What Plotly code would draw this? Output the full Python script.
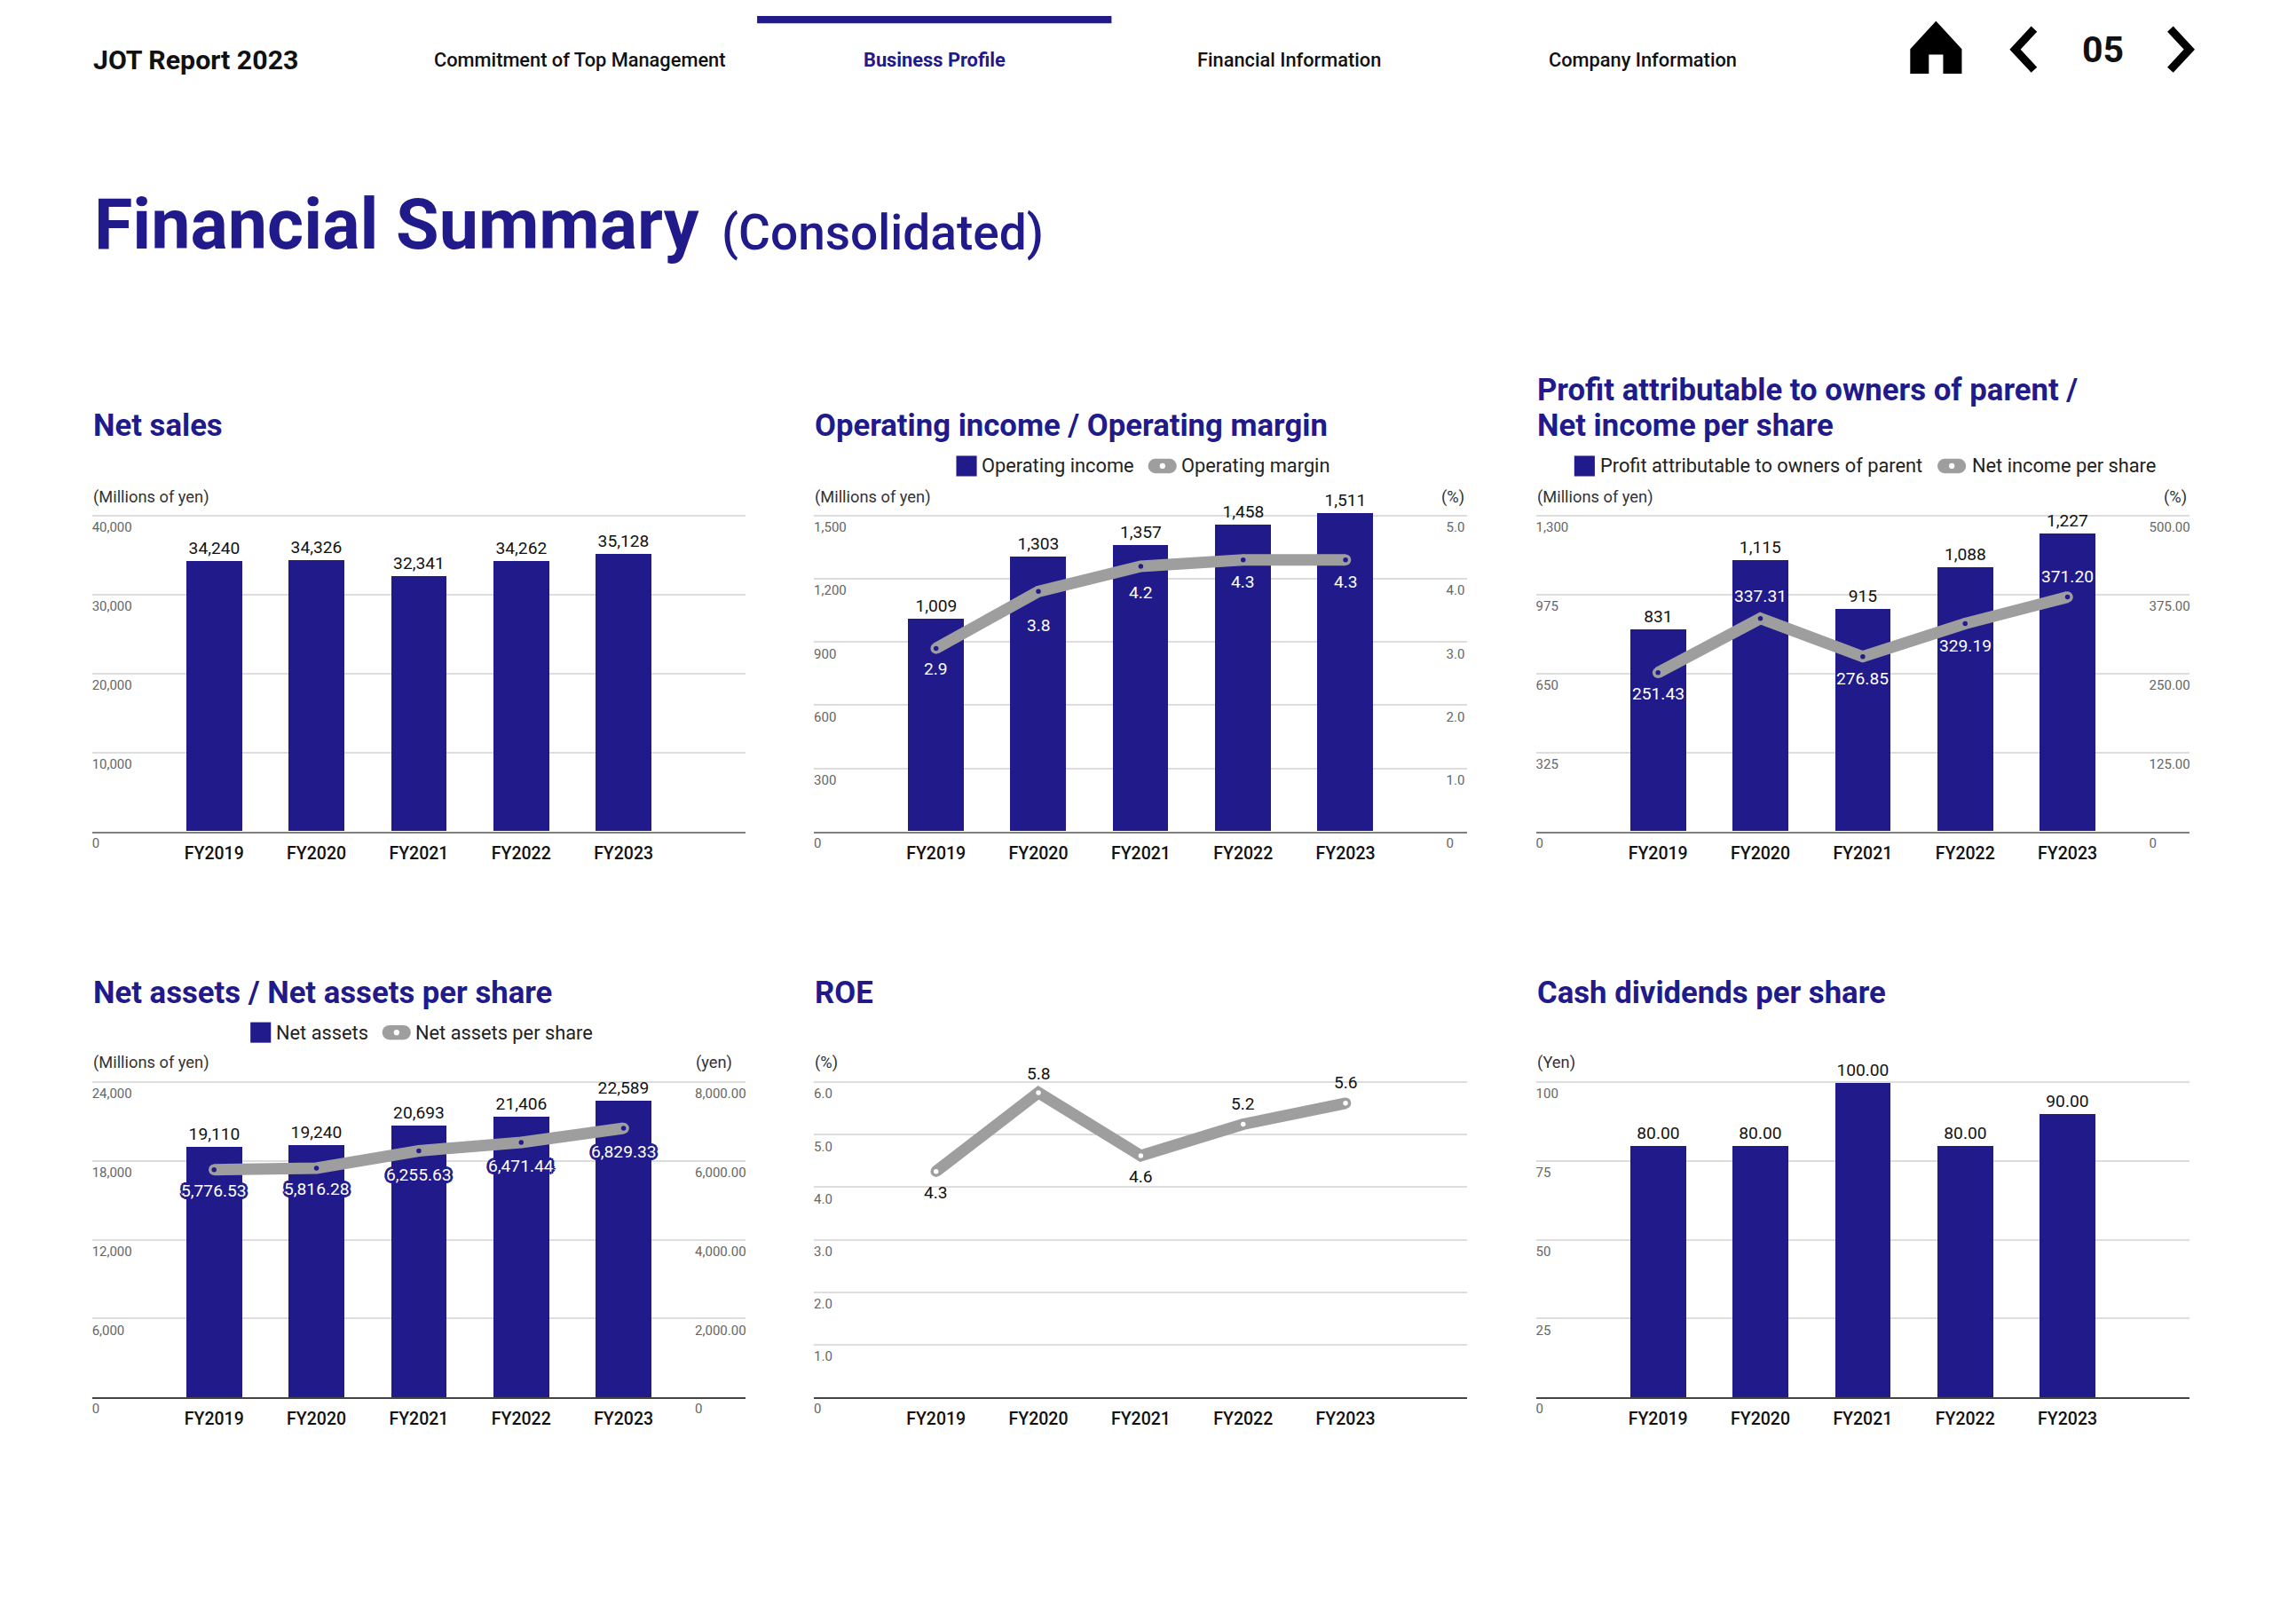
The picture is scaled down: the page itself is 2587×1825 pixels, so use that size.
import plotly.graph_objects as go

W, H = 2587, 1825
S = W / 1552.0
KX = 1.0102      # calibration between picture-read coordinates and page pixels
NAVY = "#211a8a"
GRAY = "#9e9e9e"
GRID = "#dddddd"
FONT = "Roboto"
EXT = 1.01       # head-room so that the top gridline is drawn

# ---- data -----------------------------------------------------------
years = ["FY2019", "FY2020", "FY2021", "FY2022", "FY2023"]

net_sales = [34240, 34326, 32341, 34262, 35128]
net_sales_text = ["34,240", "34,326", "32,341", "34,262", "35,128"]

op_income = [1009, 1303, 1357, 1458, 1511]
op_income_text = ["1,009", "1,303", "1,357", "1,458", "1,511"]
op_margin = [2.9, 3.8, 4.2, 4.3, 4.3]
op_margin_text = ["2.9", "3.8", "4.2", "4.3", "4.3"]

profit = [831, 1115, 915, 1088, 1227]
profit_text = ["831", "1,115", "915", "1,088", "1,227"]
eps = [251.43, 337.31, 276.85, 329.19, 371.20]
eps_text = ["251.43", "337.31", "276.85", "329.19", "371.20"]

net_assets = [19110, 19240, 20693, 21406, 22589]
net_assets_text = ["19,110", "19,240", "20,693", "21,406", "22,589"]
bps = [5776.53, 5816.28, 6255.63, 6471.44, 6829.33]
bps_text = ["5,776.53", "5,816.28", "6,255.63", "6,471.44", "6,829.33"]

roe = [4.3, 5.8, 4.6, 5.2, 5.6]
roe_text = ["4.3", "5.8", "4.6", "5.2", "5.6"]

dividends = [80, 80, 100, 80, 90]
dividends_text = ["80.00", "80.00", "100.00", "80.00", "90.00"]

ticks_sales = [0, 10000, 20000, 30000, 40000]
ticks_sales_text = ["0", "10,000", "20,000", "30,000", "40,000"]
ticks_income = [0, 300, 600, 900, 1200, 1500]
ticks_income_text = ["0", "300", "600", "900", "1,200", "1,500"]
ticks_margin = [0, 1, 2, 3, 4, 5]
ticks_margin_text = ["0", "1.0", "2.0", "3.0", "4.0", "5.0"]
ticks_profit = [0, 325, 650, 975, 1300]
ticks_profit_text = ["0", "325", "650", "975", "1,300"]
ticks_eps = [0, 125, 250, 375, 500]
ticks_eps_text = ["0", "125.00", "250.00", "375.00", "500.00"]
ticks_assets = [0, 6000, 12000, 18000, 24000]
ticks_assets_text = ["0", "6,000", "12,000", "18,000", "24,000"]
ticks_bps = [0, 2000, 4000, 6000, 8000]
ticks_bps_text = ["0", "2,000.00", "4,000.00", "6,000.00", "8,000.00"]
ticks_roe = [0, 1, 2, 3, 4, 5, 6]
ticks_roe_text = ["0", "1.0", "2.0", "3.0", "4.0", "5.0", "6.0"]
ticks_div = [0, 25, 50, 75, 100]
ticks_div_text = ["0", "25", "50", "75", "100"]

# vertical offset of each line label from its point (reference px)
off_margin = [-14, -23, -18, -15, -15]
off_eps = [-14, 15, -15, -15, 14]
off_bps = [-14, -14, -16, -16, -16]
off_roe = [-14, 13, -14, 14, 14]


# ---- helpers --------------------------------------------------------
def fx(x):
    return (x / KX) * S / W


def fy(y):
    return 1 - (y + 0.8) * S / H


fig = go.Figure()
annotations, shapes = [], []


def text(x, y, s, size, color="#111111", weight=400, anchor="left", yanchor="middle", family=FONT):
    annotations.append(dict(
        x=fx(x - 0.8), y=fy(y), xref="paper", yref="paper", text=s, showarrow=False,
        xanchor=anchor, yanchor=yanchor,
        font=dict(family=family, size=size, color=color, weight=weight),
    ))


def rect(x0, y0, x1, y1, color):
    shapes.append(dict(type="rect", xref="paper", yref="paper", x0=fx(x0), x1=fx(x1),
                       y0=fy(y0), y1=fy(y1), fillcolor=color, line=dict(width=0)))


def circle(cx, cy, r, color):
    shapes.append(dict(type="circle", xref="paper", yref="paper", x0=fx(cx - r), x1=fx(cx + r),
                       y0=fy(cy + r), y1=fy(cy - r), fillcolor=color, line=dict(width=0)))


def path(d_pts, fill=None, stroke=None, width=0):
    pts = " L ".join(f"{fx(a):.5f},{fy(b):.5f}" for a, b in d_pts)
    shapes.append(dict(type="path", xref="paper", yref="paper", path="M " + pts + (" Z" if fill else ""),
                       fillcolor=fill or "rgba(0,0,0,0)",
                       line=dict(color=stroke or "rgba(0,0,0,0)", width=width)))


def legend(x_sq, y, label1, x_t1, x_pill, label2, x_t2):
    rect(x_sq, y - 7, x_sq + 14, y + 7, NAVY)
    text(x_t1, y, label1, 21.8, "#222222")
    rect(x_pill + 5, y - 5, x_pill + 14.5, y + 5, GRAY)
    circle(x_pill + 5, y, 5, GRAY)
    circle(x_pill + 14.5, y, 5, GRAY)
    circle(x_pill + 9.8, y, 1.9, "white")
    text(x_t2, y, label2, 21.8, "#222222")


def panel(n, left, top, base, baseline_color, bar=None, bar_text=None, ymax=None, ticks=None, ticks_text=None,
          line=None, line_text=None, offs=None, rmax=None, rticks=None, rticks_text=None, rpos=None, halo=False,
          label_color="white", dot=NAVY):
    right = left + 446
    xa = f"x{n}"
    ya = f"y{2*n-1}"
    yb = f"y{2*n}"
    top_ext = base - (base - top) * EXT
    dom = [fy(base), fy(top_ext)]
    layout_x = dict(domain=[fx(left), fx(right)], range=[-1.19, 5.19], anchor=ya, type="category",
                    categoryorder="array", categoryarray=years,
                    showgrid=False, showline=True, linecolor=baseline_color, linewidth=2, zeroline=False,
                    ticks="", ticklabelstandoff=6,
                    tickfont=dict(family=FONT, size=19.5, color="#111111", weight=500))
    layout_y = dict(domain=dom, range=[0, ymax * EXT], side="right", anchor="free", position=fx(left - 0.8),
                    tickmode="array", tickvals=ticks, ticktext=ticks_text, ticklabelshift=13,
                    showgrid=True, gridcolor=GRID, gridwidth=2, zeroline=False, showline=False, ticks="",
                    tickfont=dict(family=FONT, size=15, color="#666666"))
    fig.update_layout({f"xaxis{n}": layout_x, f"yaxis{2*n-1}": layout_y})
    if bar is not None:
        fig.add_trace(go.Bar(x=years, y=bar, text=bar_text, textposition="outside", cliponaxis=False,
                             marker=dict(color=NAVY, line=dict(width=0)), width=0.543, xaxis=xa, yaxis=ya,
                             textfont=dict(family=FONT, size=19.2, color="#111111"), textangle=0,
                             constraintext="none", hoverinfo="skip", showlegend=False))
    ly = ya
    if rmax is not None:
        fig.update_layout({f"yaxis{2*n}": dict(
            domain=dom, range=[0, rmax * EXT], overlaying=ya, side="right", anchor="free",
            position=fx(rpos - 1), tickmode="array", tickvals=rticks, ticktext=rticks_text, showgrid=False,
            zeroline=False, showline=False, ticks="", ticklabelshift=13,
            tickfont=dict(family=FONT, size=15, color="#666666"))})
        ly = yb
    if line is not None:
        fig.add_trace(go.Scatter(x=years, y=line, mode="lines+markers", xaxis=xa, yaxis=ly, cliponaxis=False,
                                 line=dict(color=GRAY, width=13), hoverinfo="skip", showlegend=False,
                                 marker=dict(size=9, color=dot, line=dict(color=GRAY, width=3.5))))
        for i, v in enumerate(line):
            f = dict(family=FONT, size=19.2, color=label_color)
            if halo:
                f["shadow"] = ",".join(f"{a}px {b}px 0 {NAVY}" for a, b in
                                       [(3, 0), (-3, 0), (0, 3), (0, -3), (2, 2), (-2, 2), (2, -2), (-2, -2)])
            annotations.append(dict(x=years[i], y=v, xref=xa, yref=ly, text=line_text[i], showarrow=False,
                                    yshift=offs[i] * S, font=f))


# ---- charts ---------------------------------------------------------
LINE1, LINE2 = "#808080", "#444444"
panel(1, 63, 352, 568, LINE1, net_sales, net_sales_text, 40000, ticks_sales, ticks_sales_text)
panel(2, 556, 352, 568, LINE1, op_income, op_income_text, 1500, ticks_income, ticks_income_text,
      op_margin, op_margin_text, off_margin, 5, ticks_margin, ticks_margin_text, 988)
panel(3, 1049, 352, 568, LINE1, profit, profit_text, 1300, ticks_profit, ticks_profit_text,
      eps, eps_text, off_eps, 500, ticks_eps, ticks_eps_text, 1468)
panel(4, 63, 739.5, 955, LINE2, net_assets, net_assets_text, 24000, ticks_assets, ticks_assets_text,
      bps, bps_text, off_bps, 8000, ticks_bps, ticks_bps_text, 475, halo=True)
panel(5, 556, 739.5, 955, LINE2, None, None, 6, ticks_roe, ticks_roe_text,
      roe, roe_text, off_roe, label_color="#111111", dot="white")
panel(6, 1049, 739.5, 955, LINE2, dividends, dividends_text, 100, ticks_div, ticks_div_text)

# ---- panel titles, units, legends ------------------------------------
TS = 34.7
text(63, 290, "Net sales", TS, NAVY, 700)
text(556, 290, "Operating income / Operating margin", TS, NAVY, 700)
text(1049, 265.5, "Profit attributable to owners of parent /", TS, NAVY, 700)
text(1049, 290, "Net income per share", TS, NAVY, 700)
text(63, 678, "Net assets / Net assets per share", TS, NAVY, 700)
text(556, 678, "ROE", TS, NAVY, 700)
text(1049, 678, "Cash dividends per share", TS, NAVY, 700)

US = 18.3
for x, y, s in [(63, 339, "(Millions of yen)"), (556, 339, "(Millions of yen)"), (984, 339, "(%)"),
                (1049, 339, "(Millions of yen)"), (1477, 339, "(%)"), (63, 726, "(Millions of yen)"),
                (475, 726, "(yen)"), (556, 726, "(%)"), (1049, 726, "(Yen)")]:
    text(x, y, s, US, "#333333")

legend(653, 318, "Operating income", 670, 784, "Operating margin", 806)
legend(1075, 318, "Profit attributable to owners of parent", 1092, 1323, "Net income per share", 1346)
legend(171, 705.5, "Net assets", 188, 261, "Net assets per share", 283)

# ---- page header -----------------------------------------------------
rect(517, 10.2, 759, 15.2, NAVY)
text(63, 40.2, "JOT Report 2023", 30.3, "#111111", 700)
for cx, s, c, w in [(396.8, "Commitment of Top Management", "#111111", 500), (638.8, "Business Profile", NAVY, 700),
                    (880.8, "Financial Information", "#111111", 500), (1122.8, "Company Information", "#111111", 500)]:
    text(cx, 40.2, s, 21.8, c, w, anchor="center")
text(64, 153, "Financial Summary", 79, NAVY, 700)
text(492, 158, "(Consolidated)", 55, NAVY, 500)
text(1436.8, 33.2, "05", 41, "#111111", 700, anchor="center")
path([(1322, 14.5), (1339, 33), (1339, 49), (1327.5, 49), (1327.5, 36), (1316.5, 36), (1316.5, 49), (1305, 49), (1305, 33)],
     fill="#000000", stroke="#000000", width=2)
path([(1389, 19), (1376, 33), (1389, 47)], stroke="#000000", width=9)
path([(1482, 19), (1495, 33), (1482, 47)], stroke="#000000", width=9)

fig.update_layout(
    width=W, height=H, autosize=False, margin=dict(l=0, r=0, t=0, b=0, pad=0),
    paper_bgcolor="white", plot_bgcolor="rgba(0,0,0,0)", showlegend=False, bargap=0,
    font=dict(family=FONT), annotations=annotations, shapes=shapes,
)
fig.write_html("out.html", config={"displayModeBar": False},
               post_script="document.body.style.margin='0';document.documentElement.style.overflow='hidden';"
                           "var g=document.querySelector('.plotly-graph-div');"
                           "g.style.position='absolute';g.style.left='0';g.style.top='0';")
